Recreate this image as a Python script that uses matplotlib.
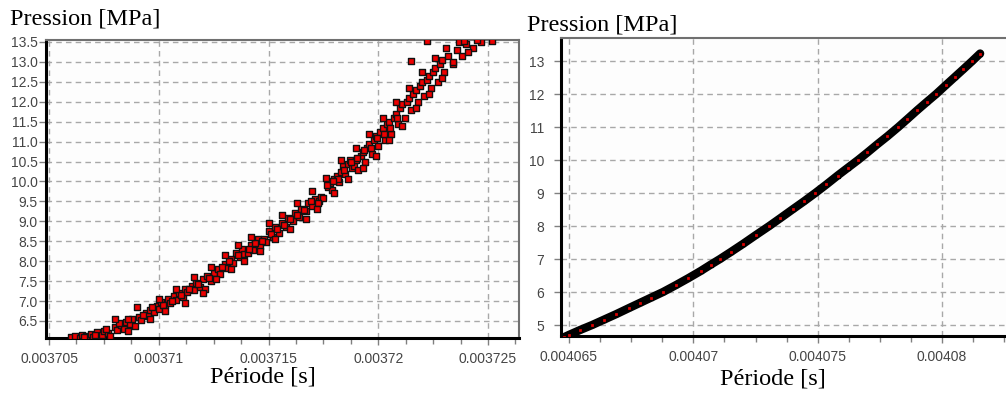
import numpy as np
import matplotlib
matplotlib.use("Agg")
from matplotlib import pyplot as plt
from matplotlib.ticker import FixedLocator, FuncFormatter

# ---- left panel : scattered measurements (periode in microseconds) ----
periode_g_us = [3706.0, 3706.2, 3706.4, 3706.5, 3706.7, 3706.9, 3707.0, 3707.2, 3707.4, 3707.5,
                3707.7, 3707.8, 3708.0, 3708.1, 3708.3, 3708.4, 3708.5, 3708.7, 3708.8, 3708.9,
                3709.1, 3709.2, 3709.4, 3709.5, 3709.6, 3709.8, 3709.9, 3710.0, 3710.1, 3710.3,
                3710.4, 3710.5, 3710.7, 3710.8, 3710.9, 3711.1, 3711.2, 3711.3, 3711.5, 3711.6,
                3711.7, 3711.9, 3712.0, 3712.1, 3712.2, 3712.4, 3712.5, 3712.7, 3712.8, 3713.0,
                3713.1, 3713.3, 3713.4, 3713.5, 3713.7, 3713.8, 3713.9, 3714.05, 3714.2, 3714.3,
                3714.5, 3714.6, 3714.8, 3714.9, 3715.0, 3715.2, 3715.3, 3715.5, 3715.6, 3715.8,
                3715.9, 3716.1, 3716.2, 3716.4, 3716.5, 3716.7, 3716.8, 3717.0, 3717.1, 3717.3,
                3717.4, 3717.5, 3717.7, 3717.8, 3717.9, 3718.0, 3718.1, 3718.2, 3718.3, 3718.4,
                3718.5, 3718.6, 3718.7, 3718.8, 3718.9, 3719.0, 3719.1, 3719.2, 3719.3, 3719.4,
                3719.5, 3719.6, 3719.7, 3719.8, 3719.9, 3720.0, 3720.1, 3720.2, 3720.3, 3720.4,
                3720.5, 3720.6, 3720.7, 3720.8, 3720.9, 3721.0, 3721.1, 3721.2, 3721.3, 3721.4,
                3721.5, 3721.6, 3721.7, 3721.8, 3721.9, 3722.0, 3722.1, 3722.2, 3722.3, 3722.4,
                3722.5, 3722.6, 3722.7, 3722.8, 3722.9, 3723.0, 3723.2, 3723.4, 3723.6, 3723.8,
                3724.0, 3724.3, 3724.7, 3725.2, 3721.5, 3722.2,
                3718.15, 3718.45, 3718.75, 3719.05, 3719.35, 3719.65, 3719.95, 3720.25, 3720.55, 3720.85,
                3717.65, 3717.95, 3716.95, 3717.25,
                3706.6, 3707.1, 3707.6, 3708.2, 3708.6, 3709.3, 3709.7, 3710.2, 3710.6, 3711.0,
                3711.4, 3711.8, 3712.3, 3712.9, 3713.2, 3713.6, 3714.1, 3714.4, 3714.7, 3715.1,
                3715.4, 3715.7, 3716.0, 3716.3, 3716.6,
                3708.0, 3708.6, 3709.0, 3709.6, 3710.0, 3710.3, 3710.8, 3711.2, 3711.6, 3712.0,
                3712.4, 3712.6, 3713.0, 3713.3, 3713.6, 3713.9, 3714.2, 3714.6, 3715.0, 3715.3,
                3715.6, 3716.0, 3716.3, 3716.7, 3717.0, 3717.2, 3717.6, 3718.0, 3718.3, 3718.6,
                3719.0, 3719.3, 3719.6, 3719.9, 3720.2, 3720.5, 3720.8, 3721.1, 3721.4, 3721.7,
                3722.0, 3722.3, 3722.6, 3722.9, 3723.1, 3723.4, 3723.7, 3724.1, 3724.5, 3723.9]
pression_g = [6.10, 6.13, 6.08, 6.15, 6.12, 6.18, 6.10, 6.22, 6.15, 6.25,
              6.20, 6.12, 6.35, 6.28, 6.40, 6.30, 6.48, 6.42, 6.55, 6.38,
              6.60, 6.52, 6.70, 6.62, 6.78, 6.72, 6.88, 6.80, 6.98, 6.90,
              7.05, 6.95, 7.12, 7.02, 7.20, 7.10, 7.30, 7.22, 7.38, 7.28,
              7.45, 7.35, 7.55, 7.30, 7.62, 7.50, 7.70, 7.80, 7.68, 7.92,
              7.82, 8.05, 7.95, 8.20, 8.10, 8.30, 8.18, 8.20, 8.40, 8.28,
              8.55, 8.38, 8.55, 8.48, 8.75, 8.60, 8.85, 8.72, 8.95, 8.85,
              9.08, 9.00, 9.20, 9.12, 9.30, 9.25, 9.45, 9.38, 9.55, 9.50,
              9.62, 9.58, 9.85, 9.95, 9.78, 10.05, 10.15, 9.98, 10.25, 10.38,
              10.20, 10.45, 10.55, 10.35, 10.40, 10.55, 10.30, 10.65, 10.75, 10.50,
              10.85, 10.95, 10.70, 11.05, 11.15, 10.90, 11.25, 11.35, 11.05, 11.45,
              11.50, 11.20, 11.60, 11.70, 11.45, 11.85, 11.95, 11.60, 12.00, 12.10,
              11.80, 12.20, 12.30, 12.00, 12.40, 12.50, 12.15, 12.55, 12.65, 12.35,
              12.75, 12.85, 12.50, 12.95, 13.05, 12.75, 13.15, 12.95, 13.30, 13.15,
              13.45, 13.35, 13.50, 13.52, 13.02, 13.52,
              10.05, 10.30, 10.50, 10.60, 10.80, 10.85, 11.10, 11.20, 11.35, 11.60,
              9.90, 10.00, 9.50, 9.45,
              6.10, 6.15, 6.30, 6.45, 6.55, 6.65, 6.85, 6.90, 7.00, 7.15,
              7.30, 7.42, 7.58, 7.85, 8.00, 8.15, 8.30, 8.45, 8.50, 8.68,
              8.80, 8.90, 9.05, 9.15, 9.28,
              6.55, 6.25, 6.85, 6.55, 7.05, 6.75, 7.30, 6.95, 7.60, 7.20,
              7.85, 7.55, 8.15, 7.80, 8.40, 8.00, 8.60, 8.25, 8.95, 8.55,
              9.15, 8.80, 9.45, 9.05, 9.75, 9.30, 10.10, 9.70, 10.55, 10.05,
              10.85, 10.35, 11.20, 10.65, 11.60, 11.05, 12.00, 11.40, 12.35, 11.85,
              12.75, 12.20, 13.10, 12.60, 13.35, 13.00, 13.50, 13.25, 13.55, 13.52]

# ---- right panel : smooth measurement ----
periode_d_us = [4064.8, 4065.0, 4065.45, 4065.93, 4066.4, 4066.9, 4067.4, 4067.85, 4068.3, 4068.78,
                4069.3, 4069.8, 4070.3, 4070.7, 4071.07, 4071.5, 4072.0, 4072.5, 4073.05, 4073.5,
                4074.0, 4074.45, 4074.9, 4075.35, 4075.8, 4076.2, 4076.62, 4077.0, 4077.4, 4077.8,
                4078.24, 4078.6, 4079.0, 4079.4, 4079.76, 4080.15, 4080.5, 4080.85, 4081.21, 4081.53]
pression_d = [4.63, 4.70, 4.85, 5.00, 5.16, 5.33, 5.51, 5.67, 5.83, 6.00,
              6.21, 6.42, 6.64, 6.83, 7.00, 7.21, 7.46, 7.72, 8.00, 8.24,
              8.51, 8.75, 9.00, 9.26, 9.53, 9.76, 10.00, 10.23, 10.48, 10.72,
              11.00, 11.24, 11.51, 11.77, 12.00, 12.27, 12.51, 12.75, 13.00, 13.23]

xticks_g = [0.003705, 0.00371, 0.003715, 0.00372, 0.003725]
yticks_g = [6.5, 7.0, 7.5, 8.0, 8.5, 9.0, 9.5, 10.0, 10.5, 11.0, 11.5, 12.0, 12.5, 13.0, 13.5]
xticks_d = [0.004065, 0.00407, 0.004075, 0.00408]
yticks_d = [5, 6, 7, 8, 9, 10, 11, 12, 13]

W, H = 1006, 393
fig = plt.figure(figsize=(W / 100, H / 100), dpi=100)
fig.patch.set_facecolor('white')

tick_font = {'family': 'Liberation Sans', 'size': 10}
lab_font = {'family': 'Liberation Serif', 'size': 17.5}


def style_axes(ax, xticks, yticks, xlim, ylim, yfmt, ypad):
    ax.set_xlim(*xlim)
    ax.set_ylim(*ylim)
    ax.set_facecolor('#fdfdfd')
    ax.set_axisbelow(True)
    ax.xaxis.set_major_locator(FixedLocator(xticks))
    step = (xticks[1] - xticks[0]) / 4
    minors = [xticks[0] + step * k for k in range(-1, 4 * len(xticks) + 2)]
    ax.xaxis.set_minor_locator(FixedLocator(minors))
    ax.yaxis.set_major_locator(FixedLocator(yticks))
    ax.xaxis.set_major_formatter(FuncFormatter(lambda v, p: '%g' % float('%.7g' % v)))
    ax.yaxis.set_major_formatter(FuncFormatter(lambda v, p: yfmt % v))
    ax.grid(True, which='major', color='#a8a8a8', linestyle=(0, (4, 3)), linewidth=1)
    ax.tick_params(axis='both', which='major', direction='out', length=5, width=1,
                   color='#808080', labelcolor='#454545')
    ax.tick_params(axis='both', which='minor', direction='out', length=4, width=1,
                   color='#808080')
    ax.tick_params(axis='x', pad=5)
    ax.tick_params(axis='y', pad=ypad)
    for lab in ax.get_xticklabels() + ax.get_yticklabels():
        lab.set_fontfamily(tick_font['family'])
        lab.set_fontsize(tick_font['size'])
    ax.spines['left'].set_color('black')
    ax.spines['left'].set_linewidth(2.2)
    ax.spines['bottom'].set_color('black')
    ax.spines['bottom'].set_linewidth(2.2)
    ax.spines['top'].set_color('#707070')
    ax.spines['top'].set_linewidth(1.5)
    ax.spines['right'].set_color('#707070')
    ax.spines['right'].set_linewidth(1.5)


# left
ax1 = fig.add_axes([46 / W, 1 - 338 / H, (519 - 46) / W, (338 - 40) / H])
style_axes(ax1, xticks_g, yticks_g, (0.0037048633, 0.0037264123), (6.073, 13.55), '%.1f', 1)
xg = np.array(periode_g_us) * 1e-6
ax1.scatter(xg, pression_g, marker='s', s=22, c='#ee0000', edgecolors='#111111',
            linewidths=1.0, zorder=3, clip_on=True)

# right
ax2 = fig.add_axes([561 / W, 1 - 336 / H, (W - 561) / W, (336 - 38) / H])
style_axes(ax2, xticks_d, yticks_d, (0.00406468, 0.00408257), (4.667, 13.70), '%d', 7)
ax2.spines['right'].set_visible(False)
xd = np.array(periode_d_us) * 1e-6
ax2.plot(xd, pression_d, color='black', linewidth=6, solid_capstyle='round', zorder=2)
ax2.scatter(xd, pression_d, marker='s', s=8, c='#dd0000', edgecolors='black',
            linewidths=0.9, zorder=3)

# labels
fig.text(10 / W, 1 - 25 / H, 'Pression [MPa]', ha='left', va='baseline', **lab_font)
fig.text(527 / W, 1 - 31 / H, 'Pression [MPa]', ha='left', va='baseline', **lab_font)
fig.text(210 / W, 1 - 382 / H, 'Période [s]', ha='left', va='baseline', **lab_font)
fig.text(720 / W, 1 - 385 / H, 'Période [s]', ha='left', va='baseline', **lab_font)

fig.savefig('out.png', dpi=100, facecolor='white')
